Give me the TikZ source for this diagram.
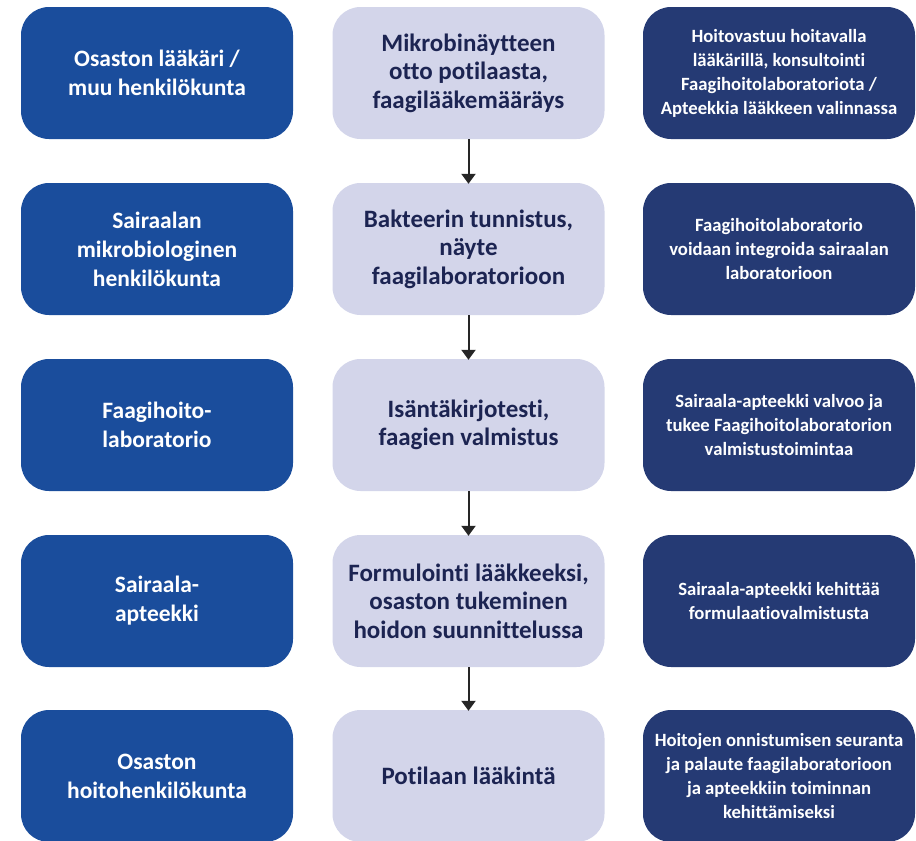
\documentclass[tikz,border=0pt]{standalone}
\usepackage{fontspec}
\setmainfont{Carlito}[Ligatures={NoCommon}]
\usetikzlibrary{arrows.meta}
\definecolor{roleblue}{HTML}{1A4D9C}
\definecolor{steplight}{HTML}{D3D5EA}
\definecolor{notenavy}{HTML}{253A74}
\definecolor{steptext}{HTML}{1C2452}
\tikzset{
  box/.style={rounded corners=28pt, minimum width=272pt, minimum height=132pt, align=center, inner sep=0pt, font=\bfseries},
  rolebox/.style={box, fill=roleblue, text=white, font=\bfseries\fontsize{23.5}{29}\selectfont},
  stepbox/.style={box, fill=steplight, text=steptext, font=\bfseries\fontsize{25}{28.5}\selectfont},
  notebox/.style={box, fill=notenavy, text=white, font=\bfseries\fontsize{18.7}{24}\selectfont},
  flow/.style={line width=2pt, draw=black!85, -{Triangle[width=14pt,length=10pt]}}
}
\begin{document}
\begin{tikzpicture}[x=1pt,y=-1pt]
\useasboundingbox (0,0) rectangle (916,841);
\clip (0,0) rectangle (916,841);
% left column
\node[rolebox] (r1) at (157,73) {Osaston lääkäri /\\muu henkilökunta};
\node[rolebox] (r2) at (157,249) {Sairaalan\\mikrobiologinen\\henkilökunta};
\node[rolebox] (r3) at (157,425) {Faagihoito-\\laboratorio};
\node[rolebox] (r4) at (157,601) {Sairaala-\\apteekki};
\node[rolebox] (r5) at (157,776) {Osaston\\hoitohenkilökunta};
% middle column
\node[stepbox] (s1) at (468.5,73) {Mikrobinäytteen\\otto potilaasta,\\faagilääkemääräys};
\node[stepbox] (s2) at (468.5,249) {Bakteerin tunnistus,\\näyte\\faagilaboratorioon};
\node[stepbox] (s3) at (468.5,425) {Isäntäkirjotesti,\\faagien valmistus};
\node[stepbox] (s4) at (468.5,601) {Formulointi lääkkeeksi,\\osaston tukeminen\\hoidon suunnittelussa};
\node[stepbox] (s5) at (468.5,776) {Potilaan lääkintä};
% right column
\node[notebox] (n1) at (779,73) {Hoitovastuu hoitavalla\\lääkärillä, konsultointi\\Faagihoitolaboratoriota /\\Apteekkia lääkkeen valinnassa};
\node[notebox] (n2) at (779,249) {Faagihoitolaboratorio\\voidaan integroida sairaalan\\laboratorioon};
\node[notebox] (n3) at (779,425) {Sairaala-apteekki valvoo ja\\tukee Faagihoitolaboratorion\\valmistustoimintaa};
\node[notebox] (n4) at (779,601) {Sairaala-apteekki kehittää\\formulaatiovalmistusta};
\node[notebox] (n5) at (779,776) {Hoitojen onnistumisen seuranta\\ja palaute faagilaboratorioon\\ja apteekkiin toiminnan\\kehittämiseksi};
% arrows
\draw[flow] (s1.south) -- ([yshift=-1pt]s2.north);
\draw[flow] (s2.south) -- ([yshift=-1pt]s3.north);
\draw[flow] (s3.south) -- ([yshift=-1pt]s4.north);
\draw[flow] (s4.south) -- ([yshift=-1pt]s5.north);
\end{tikzpicture}
\end{document}
